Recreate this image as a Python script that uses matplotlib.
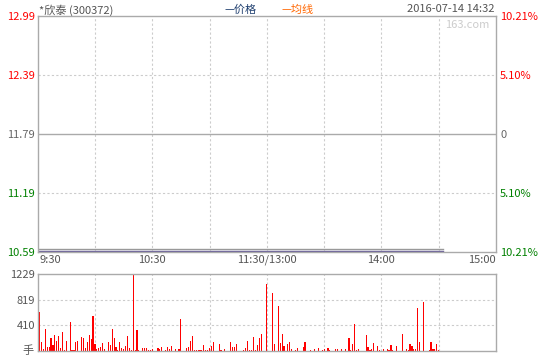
import matplotlib
matplotlib.use("Agg")
import matplotlib.pyplot as plt

plt.rcParams['font.family'] = ['Noto Sans CJK SC', 'DejaVu Sans']

# intraday chart for *欣泰 (300372), 2016-07-14
TITLE = "*欣泰 (300372)"
STAMP = "2016-07-14 14:32"
PREV_CLOSE = 11.79

price_ticks = [10.59, 11.19, 11.79, 12.39, 12.99]
pct_labels = ["10.21%", "5.10%", "0", "5.10%", "10.21%"]
tick_colors = ["#008000", "#008000", "#666666", "#ff0000", "#ff0000"]

# price is pinned at the limit-down all session (minutes since 9:30, trading time)
price_minutes = [0, 212]
price_values = [10.617, 10.617]
avg_values = [10.603, 10.603]

time_ticks = [0, 60, 120, 180, 240]
time_labels = ["9:30", "10:30", "11:30/13:00", "14:00", "15:00"]

vol_ticks = [410, 819, 1229]
vol_minutes = [
    0, 1, 2, 3, 4, 5, 6, 7, 8, 9, 10, 11, 12, 13, 14, 15, 17, 18, 19, 20,
    21, 23, 24, 25, 26, 27, 28, 29, 30, 31, 32, 33, 34, 35, 37, 38, 39, 40,
    41, 42, 43, 44, 45, 46, 47, 48, 49, 50, 51, 52, 53, 55, 56, 57, 58, 59,
    60, 63, 64, 65, 67, 68, 69, 70, 72, 74, 75, 78, 79, 80, 81, 82, 83, 84,
    85, 86, 87, 88, 89, 90, 91, 92, 95, 96, 98, 101, 102, 103, 104, 108,
    109, 110, 111, 112, 113, 114, 115, 116, 117, 120, 123, 124, 126, 127,
    128, 129, 131, 132, 133, 135, 136, 139, 140, 143, 145, 147, 149, 150,
    152, 153, 156, 157, 159, 161, 163, 164, 165, 166, 167, 168, 172, 173,
    174, 175, 176, 178, 179, 181, 183, 184, 185, 186, 188, 191, 193, 194,
    195, 196, 197, 198, 199, 200, 202, 205, 206, 207, 208, 209, 210,
]
vol_values = [
    1185, 630, 144, 32, 352, 64, 64, 208, 91, 256, 160, 240, 48, 304, 11, 160, 465, 11, 11, 144,
    160, 224, 208, 48, 144, 256, 192, 561, 112, 32, 48, 64, 128, 32, 144, 96, 352, 208,
    64, 16, 144, 48, 32, 80, 240, 48, 16, 1229, 16, 336, 16, 48, 48, 48, 16, 16,
    32, 48, 32, 64, 16, 64, 32, 80, 32, 32, 513, 48, 64, 160, 240, 16, 16, 16,
    16, 16, 96, 16, 16, 48, 80, 144, 112, 16, 32, 144, 64, 64, 112, 16,
    48, 160, 16, 16, 224, 16, 96, 208, 272, 1073, 929, 112, 721, 128,
    272, 80, 112, 144, 32, 16, 48, 64, 144, 16, 32, 48, 16, 32,
    48, 16, 32, 32, 32, 32, 208, 16, 112, 432, 16, 32, 256, 64,
    16, 32, 128, 80, 16, 32, 32, 16, 96, 16, 80, 272, 32, 16,
    112, 80, 32, 32, 689, 144, 785, 16, 144, 32, 32, 112, 16,
]
down_minutes = [0]  # bars below the previous close are drawn green

FRAME = "#aaaaaa"
GRID = "#cccccc"
FS = 8

fig = plt.figure(figsize=(5.4, 3.6), dpi=100)
ax = fig.add_axes([0.0698, 0.30, 0.8487, 0.6556])
axv = fig.add_axes([0.0698, 0.025, 0.8487, 0.213])

for a in (ax, axv):
    a.set_xlim(0, 240)
    for s in a.spines.values():
        s.set_color(FRAME)
        s.set_linewidth(1.0)
    a.tick_params(length=0)
    a.set_xticks([])
    for m in range(30, 240, 30):
        a.axvline(m, color=GRID, lw=0.8, dashes=(2, 2), zorder=0)

# price panel
ax.set_ylim(price_ticks[0], price_ticks[-1])
for p in price_ticks[1:-1]:
    if p == PREV_CLOSE:
        ax.axhline(p, color=FRAME, lw=1.0, zorder=0)
    else:
        ax.axhline(p, color=GRID, lw=0.8, dashes=(2, 2), zorder=0)
ax.plot(price_minutes, price_values, color="#999999", lw=1.0)
ax.plot(price_minutes, avg_values, color="#6a5f9a", lw=1.0)

ax.set_yticks(price_ticks)
ax.set_yticklabels([f"{p:.2f}" for p in price_ticks], fontsize=FS)
for lbl, c in zip(ax.get_yticklabels(), tick_colors):
    lbl.set_color(c)
ax.tick_params(axis="y", pad=2)

axr = ax.twinx()
axr.set_ylim(ax.get_ylim())
axr.set_yticks(price_ticks)
axr.set_yticklabels(pct_labels, fontsize=FS)
for lbl, c in zip(axr.get_yticklabels(), tick_colors):
    lbl.set_color(c)
axr.tick_params(length=0, pad=3)
for s in axr.spines.values():
    s.set_visible(False)

for t, lab in zip(time_ticks, time_labels):
    ha = "left" if t == 0 else ("right" if t == 240 else "center")
    ax.text(t + (1 if t == 0 else 0), -0.012, lab, transform=ax.get_xaxis_transform(),
            ha=ha, va="top", fontsize=FS, color="#555555")

# header texts
fig.text(0.072, 0.988, TITLE, ha="left", va="top", fontsize=FS, color="#555555")
fig.text(0.415, 0.988, "—价格", ha="left", va="top", fontsize=FS, color="#1f3f6f")
fig.text(0.522, 0.988, "—均线", ha="left", va="top", fontsize=FS, color="#ff6600")
fig.text(0.915, 0.988, STAMP, ha="right", va="top", fontsize=FS, color="#555555")
ax.text(0.985, 0.985, "163.com", transform=ax.transAxes, ha="right", va="top",
        fontsize=FS, color="#cccccc")

# volume panel
axv.set_ylim(0, vol_ticks[-1])
for v in vol_ticks[:-1]:
    axv.axhline(v, color=GRID, lw=0.8, dashes=(2, 2), zorder=0)
colors = ["#008000" if m in down_minutes else "#ff0000" for m in vol_minutes]
axv.bar(vol_minutes, vol_values, width=0.6, color=colors, linewidth=0,
        antialiased=False, zorder=2)
axv.set_yticks(vol_ticks)
axv.set_yticklabels([str(v) for v in vol_ticks], fontsize=FS, color="#555555")
axv.tick_params(axis="y", pad=2)
axv.text(-0.008, 0, "手", transform=axv.transAxes, ha="right", va="center",
         fontsize=FS, color="#555555")

fig.savefig("out.png", dpi=100)
